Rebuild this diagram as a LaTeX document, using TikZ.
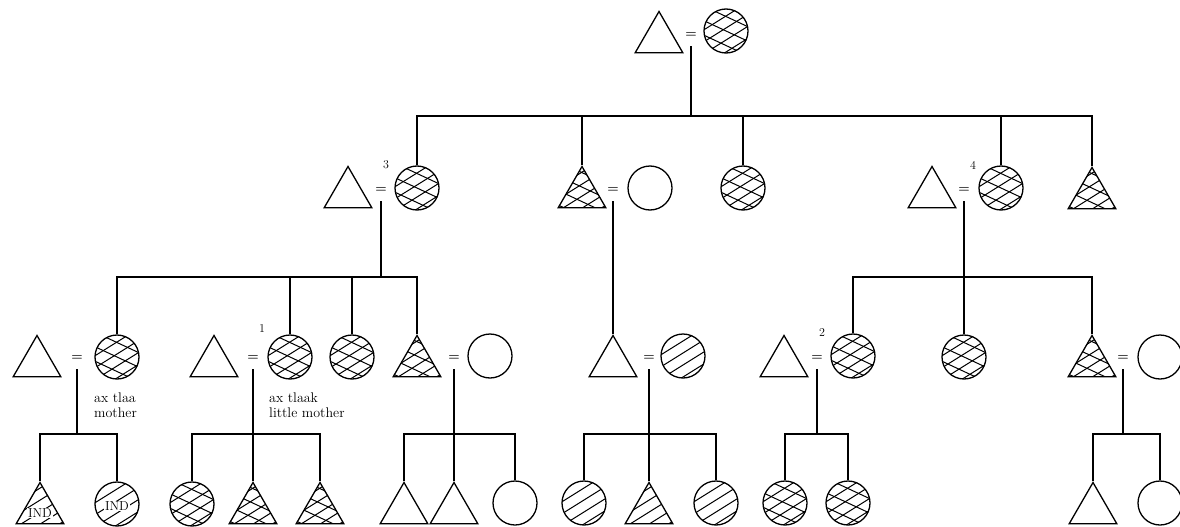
\documentclass[tikz,border=0pt]{standalone}
\usepackage{fontspec}
\usetikzlibrary{shapes.geometric, calc}
\tikzstyle{person}      = [draw=black, 
                           line width=1.3pt, 
                           inner sep=0pt]
\tikzstyle{male}        = [person, 
                           regular polygon, 
                           regular polygon sides=3, 
                           minimum size=55pt]
\tikzstyle{female}      = [person, 
                           circle, 
                           minimum size=44pt]
\tikzstyle{hatchLine}   = [line width=1pt]
\tikzstyle{singleHatch} = [path picture={
                           \foreach \k in {-3,...,3}
                               \draw [hatchLine] ([shift={(0,\k*12+3)}] path picture bounding box.center)
                                   ++(212:50) -- ++(32:100);
                           }]
\tikzstyle{crossHatch}  = [path picture={
                           \foreach \k in {-3,...,3} {
                               \draw [hatchLine] ([shift={(0,\k*12+3)}] path picture bounding box.center)
                                   ++(212:50) -- ++(32:100);
                               \draw [hatchLine] ([shift={(0,\k*14.5)}] path picture bounding box.center)
                                   ++(155:50) -- ++(-25:100);
                           }}]
\tikzstyle{marriage}    = [inner sep=0pt, 
                           minimum height=22pt, 
                           font=\fontsize{13}{13}\bfseries]
\tikzstyle{kinLine}     = [line width=1.3pt]
\tikzstyle{gloss}       = [anchor=north west, 
                           align=left, 
                           inner sep=0pt, 
                           font=\fontsize{14}{15}\selectfont]
\tikzstyle{refNumber}   = [inner sep=0pt, 
                           font=\fontsize{12}{12}\selectfont]
\tikzstyle{indLabel}    = [fill=white, 
                           inner sep=1pt, 
                           font=\fontsize{13}{13}\selectfont]

\begin{document}
\begin{tikzpicture}[x=1pt, y=1pt]
        \useasboundingbox (0,0) rectangle (1180,-527);

        % first generation
        \node [male] (M1)                  at (659,-39) {};
        \node [marriage] (E1)              at (691,-35) {=};
        \node [female, crossHatch] (F1)    at (726,-31) {};

        % second generation
        \node [male] (M2a)                 at (348,-194) {};
        \node [marriage] (E2a)             at (381,-190) {=};
        \node [female, crossHatch] (F2a)   at (417,-188) {};
        \node [male, crossHatch] (M2b)     at (582,-194) {};
        \node [marriage] (E2b)             at (613,-190) {=};
        \node [female] (F2b)               at (650,-188) {};
        \node [female, crossHatch] (F2c)   at (743,-188) {};
        \node [male] (M2d)                 at (932,-194) {};
        \node [marriage] (E2d)             at (964,-190) {=};
        \node [female, crossHatch] (F2d)   at (1001,-188) {};
        \node [male, crossHatch] (M2e)     at (1092,-195) {};

        \node [refNumber] (numThree)       at ([shift={(-31,23)}] F2a) {3};
        \node [refNumber] (numFour)        at ([shift={(-28,23)}] F2d) {4};

        % third generation
        \node [male] (M3a)                 at (37,-363) {};
        \node [marriage] (E3a)             at (77,-358) {=};
        \node [female, crossHatch] (F3a)   at (117,-357) {};
        \node [male] (M3b)                 at (214,-363) {};
        \node [marriage] (E3b)             at (253,-358) {=};
        \node [female, crossHatch] (F3b)   at (290,-357) {};
        \node [female, crossHatch] (F3c)   at (352,-357) {};
        \node [male, crossHatch] (M3d)     at (417,-363) {};
        \node [marriage] (E3d)             at (454,-358) {=};
        \node [female] (F3d)               at (490,-356) {};
        \node [male] (M3e)                 at (613,-363) {};
        \node [marriage] (E3e)             at (649,-358) {=};
        \node [female, singleHatch] (F3e)  at (683,-356) {};
        \node [male] (M3f)                 at (784,-363) {};
        \node [marriage] (E3f)             at (817,-358) {=};
        \node [female, crossHatch] (F3f)   at (853,-356) {};
        \node [female, crossHatch] (F3g)   at (964,-357) {};
        \node [male, crossHatch] (M3h)     at (1092,-363) {};
        \node [marriage] (E3h)             at (1123,-358) {=};
        \node [female] (F3h)               at (1160,-357) {};

        \node [refNumber] (numOne)         at ([shift={(-28,28)}] F3b) {1};
        \node [refNumber] (numTwo)         at ([shift={(-31,23)}] F3f) {2};

        \node [gloss] (glossMother)        at (94,-393) {ax tlaa\\mother};
        \node [gloss] (glossLittle)        at (269,-393) {ax tlaak\\little mother};

        % fourth generation
        \node [male, singleHatch] (M4a)    at (40,-510) {};
        \node [female, singleHatch] (F4a)  at (117,-504) {};
        \node [female, crossHatch] (F4b)   at (192,-504) {};
        \node [male, crossHatch] (M4b)     at (253,-510) {};
        \node [male, crossHatch] (M4c)     at (320,-510) {};
        \node [male] (M4d)                 at (404,-510) {};
        \node [male] (M4e)                 at (454,-510) {};
        \node [female] (F4e)               at (515,-503) {};
        \node [female, singleHatch] (F4f)  at (584,-503) {};
        \node [male, singleHatch] (M4f)    at (649,-510) {};
        \node [female, singleHatch] (F4g)  at (716,-503) {};
        \node [female, crossHatch] (F4h)   at (785,-503) {};
        \node [female, crossHatch] (F4i)   at (848,-503) {};
        \node [male] (M4j)                 at (1093,-510) {};
        \node [female] (F4j)               at (1160,-503) {};

        \node [indLabel] (indSon)          at ([shift={(0,-3)}] M4a) {IND};
        \node [indLabel] (indDaughter)     at ([shift={(0,-2)}] F4a) {IND};

        % descent lines
        \coordinate (B1) at (E1.south |- 0,-116);
        \draw [kinLine] (E1.south) -- (B1);
        \draw [kinLine] (B1) -| (F2a.north);
        \draw [kinLine] (B1) -| (M2b.north);
        \draw [kinLine] (B1) -| (F2c.north);
        \draw [kinLine] (B1) -| (F2d.north);
        \draw [kinLine] (B1) -| (M2e.north);

        \coordinate (B2a) at (E2a.south |- 0,-277);
        \draw [kinLine] (E2a.south) -- (B2a);
        \draw [kinLine] (B2a) -| (F3a.north);
        \draw [kinLine] (B2a) -| (F3b.north);
        \draw [kinLine] (B2a) -| (F3c.north);
        \draw [kinLine] (B2a) -| (M3d.north);

        \draw [kinLine] (E2b.south) -- (M3e.north);

        \coordinate (B2d) at (E2d.south |- 0,-277);
        \draw [kinLine] (E2d.south) -- (F3g.north);
        \draw [kinLine] (B2d) -| (F3f.north);
        \draw [kinLine] (B2d) -| (M3h.north);

        \coordinate (B3a) at (E3a.south |- 0,-434);
        \draw [kinLine] (E3a.south) -- (B3a);
        \draw [kinLine] (B3a) -| (M4a.north);
        \draw [kinLine] (B3a) -| (F4a.north);

        \coordinate (B3b) at (E3b.south |- 0,-434);
        \draw [kinLine] (E3b.south) -- (M4b.north);
        \draw [kinLine] (B3b) -| (F4b.north);
        \draw [kinLine] (B3b) -| (M4c.north);

        \coordinate (B3d) at (E3d.south |- 0,-434);
        \draw [kinLine] (E3d.south) -- (M4e.north);
        \draw [kinLine] (B3d) -| (M4d.north);
        \draw [kinLine] (B3d) -| (F4e.north);

        \coordinate (B3e) at (E3e.south |- 0,-434);
        \draw [kinLine] (E3e.south) -- (M4f.north);
        \draw [kinLine] (B3e) -| (F4f.north);
        \draw [kinLine] (B3e) -| (F4g.north);

        \coordinate (B3f) at (E3f.south |- 0,-434);
        \draw [kinLine] (E3f.south) -- (B3f);
        \draw [kinLine] (B3f) -| (F4h.north);
        \draw [kinLine] (B3f) -| (F4i.north);

        \coordinate (B3h) at (E3h.south |- 0,-434);
        \draw [kinLine] (E3h.south) -- (B3h);
        \draw [kinLine] (B3h) -| (M4j.north);
        \draw [kinLine] (B3h) -| (F4j.north);

    \end{tikzpicture}
\end{document}
